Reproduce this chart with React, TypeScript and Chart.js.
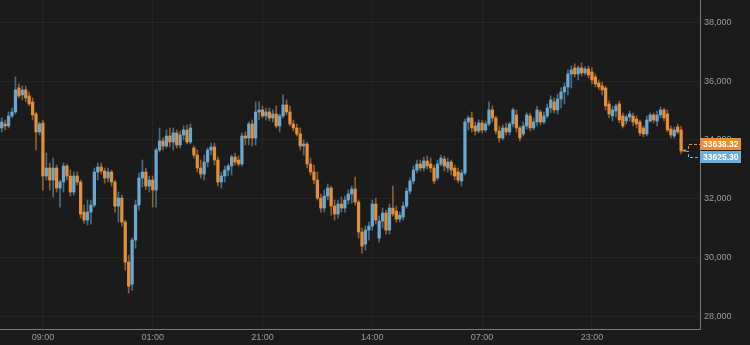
import React, { useEffect, useRef } from 'react';
import { Chart, registerables } from 'chart.js';

Chart.register(...registerables);

// ---- data ----
const categoryCount = 204;
const tickIndices = [12, 44, 76, 108, 140, 172];
const tickLabels = ['09:00', '01:00', '21:00', '14:00', '07:00', '23:00'];
const yTicks = [28000, 30000, 32000, 34000, 36000, 38000];
const yMin = 27580;
const yMax = 38755;
const lastAsk = 33638.32;
const lastBid = 33625.3;

const opens = [
  34408, 34544, 34476, 34816, 34952, 35768, 35530, 35700, 35496, 35292,
  34884, 34272, 34578, 32776, 33048, 32640, 33048, 32368, 32572, 33116,
  32776, 32232, 32776, 32572, 31552, 31280, 31552, 31790, 32912, 33082,
  32946, 32708, 32912, 32572, 31756, 32028, 31212, 29852, 29104, 30600,
  31790, 32708, 32912, 32436, 32640, 32300, 33660, 33966, 33796, 34136,
  33932, 34238, 33830, 34170, 34340, 33932, 33728, 33490, 33048, 32844,
  33252, 33660, 33762, 33320, 32572, 32776, 32980, 33116, 33422, 33320,
  33184, 34136, 34068, 34544, 34068, 34952, 35020, 34816, 34952, 34748,
  34884, 34476, 34816, 35190, 34952, 34544, 34408, 34204, 33796, 33864,
  33184, 32912, 32640, 32028, 31688, 32096, 32368, 31756, 31484, 31824,
  31688, 31960, 32164, 32334, 31892, 30872, 30464, 30940, 31076, 31824,
  30668, 31246, 31518, 30940, 31688, 31586, 31314, 31382, 31756, 32266,
  32606, 32980, 33184, 33048, 33286, 33184, 33048, 32708, 33184, 33354,
  33048, 33252, 33048, 32912, 32606, 32878, 34612, 34748, 34476, 34306,
  34578, 34340, 34544, 35020, 34748, 34306, 34068, 34408, 34272, 34544,
  34850, 34408, 34204, 34476, 34816, 34408, 34612, 34952, 34612, 34816,
  35088, 35292, 35020, 35394, 35632, 35802, 36244, 36448, 36244, 36448,
  36278, 36414, 36312, 36142, 35938, 35836, 35768, 35224, 34816, 34986,
  35224, 34816, 34646, 34782, 34816, 34714, 34612, 34408, 34204, 34646,
  34850, 34646, 34850, 35020, 34884, 34374, 34136, 34442, 34340, 33638.32,
];

const highs = [
  34748, 34680, 34952, 35088, 36142, 35904, 35836, 35836, 35632, 35428,
  34952, 34612, 34680, 33558, 33218, 33388, 33150, 32640, 33218, 33184,
  32980, 32912, 32912, 32640, 31790, 31960, 31960, 33048, 33218, 33218,
  33048, 33048, 32980, 32640, 32232, 32130, 31280, 30090, 30668, 31960,
  32878, 33320, 33048, 32776, 32776, 33728, 34408, 34068, 34340, 34408,
  34408, 34340, 34306, 34476, 34510, 34544, 33796, 33660, 33320, 33490,
  33728, 33898, 33898, 33422, 32912, 33116, 33184, 33490, 33558, 33456,
  34238, 34272, 34612, 34680, 35292, 35292, 35156, 35088, 35088, 35020,
  35156, 34884, 35530, 35360, 35156, 34680, 34544, 34408, 34000, 33932,
  33388, 33150, 32912, 32164, 32300, 32504, 32436, 31960, 31960, 32062,
  32096, 32300, 32436, 32742, 31960, 31008, 31076, 31212, 31960, 32028,
  31416, 31688, 31620, 31824, 32436, 31756, 31552, 31892, 32368, 32708,
  33116, 33320, 33320, 33422, 33456, 33388, 33150, 33320, 33490, 33456,
  33388, 33320, 33150, 33048, 32980, 34714, 34816, 34952, 34612, 34680,
  34680, 34646, 35292, 35156, 34816, 34476, 34510, 34578, 34612, 35088,
  35020, 34476, 34612, 34918, 34918, 34748, 35156, 35020, 34952, 35224,
  35496, 35428, 35564, 35768, 35938, 36380, 36516, 36584, 36516, 36618,
  36482, 36516, 36448, 36244, 36040, 35972, 35836, 35326, 35156, 35224,
  35326, 34918, 34850, 34986, 34918, 34816, 34680, 34476, 34816, 34918,
  34918, 34986, 35122, 35088, 35020, 34476, 34442, 34544, 34476, 33660,
];

const lows = [
  34272, 34340, 34408, 34748, 34884, 35428, 35360, 35292, 35156, 34680,
  33660, 34170, 32300, 32640, 32300, 32062, 32232, 31722, 32232, 32640,
  32096, 32130, 32470, 31348, 31178, 31110, 31144, 31722, 32640, 32844,
  32538, 32572, 32436, 31552, 31212, 31076, 29580, 28798, 28900, 30328,
  31620, 32402, 32300, 32232, 31722, 31722, 33592, 33660, 33728, 33762,
  33660, 33728, 33728, 34000, 33864, 33864, 33388, 32912, 32708, 32640,
  33082, 33490, 33150, 32436, 32368, 32572, 32776, 32810, 33150, 33116,
  33116, 33830, 33830, 33796, 33830, 34680, 34748, 34680, 34646, 34612,
  34408, 34272, 34748, 34850, 34476, 34306, 34136, 33660, 33490, 33048,
  32810, 32504, 31960, 31552, 31552, 31960, 31450, 31280, 31348, 31552,
  31552, 31824, 31858, 31790, 30668, 30158, 30260, 30600, 30940, 31144,
  30532, 31008, 30804, 30804, 31416, 31212, 31212, 31280, 31688, 32164,
  32504, 32878, 32946, 32946, 33014, 32912, 32504, 32640, 33116, 32946,
  32912, 32810, 32640, 32538, 32436, 32810, 34340, 34272, 34170, 34238,
  34238, 34272, 34476, 34612, 34204, 33932, 34000, 34170, 34170, 34442,
  34272, 33966, 34136, 34374, 34306, 34340, 34476, 34510, 34544, 34748,
  34918, 34918, 34884, 35088, 35224, 35530, 35768, 36142, 36040, 36176,
  36210, 36108, 35904, 35802, 35700, 35530, 35020, 34748, 34646, 34782,
  34578, 34408, 34544, 34646, 34476, 34408, 34136, 34102, 34136, 34612,
  34578, 34476, 34748, 34646, 34272, 34068, 34068, 34204, 33524, 33600,
];

const closes = [
  34612, 34476, 34816, 34952, 35700, 35496, 35700, 35428, 35224, 34850,
  34272, 34544, 32776, 33048, 32640, 33048, 32368, 32572, 33116, 32776,
  32232, 32776, 32572, 31484, 31280, 31552, 31790, 32912, 33082, 32946,
  32708, 32912, 32572, 31756, 32028, 31212, 29852, 29036, 30600, 31790,
  32708, 32912, 32436, 32640, 32300, 33660, 33966, 33796, 34136, 33932,
  34238, 33830, 34170, 34340, 33932, 34408, 33490, 33048, 32844, 33252,
  33660, 33762, 33320, 32572, 32776, 32980, 33116, 33422, 33252, 33184,
  34136, 34068, 34544, 34068, 34952, 35020, 34816, 34952, 34748, 34884,
  34476, 34816, 35190, 34952, 34544, 34408, 34204, 33796, 33864, 33184,
  32912, 32640, 32028, 31688, 32096, 32368, 31756, 31484, 31824, 31688,
  31960, 32164, 32334, 31892, 30872, 30396, 30940, 31076, 31824, 31280,
  31246, 31518, 30940, 31688, 31484, 31314, 31450, 31756, 32266, 32606,
  32980, 33184, 33048, 33286, 33116, 33048, 32606, 33184, 33388, 33116,
  33252, 32980, 32776, 32640, 32878, 34612, 34748, 34408, 34306, 34578,
  34340, 34544, 35020, 34748, 34306, 34068, 34408, 34272, 34544, 35020,
  34408, 34068, 34476, 34850, 34408, 34612, 35020, 34612, 34816, 35088,
  35360, 35020, 35394, 35632, 35802, 36244, 36380, 36244, 36448, 36278,
  36414, 36210, 36040, 35904, 35802, 35700, 35156, 34884, 35020, 35156,
  34680, 34476, 34782, 34884, 34612, 34544, 34238, 34204, 34680, 34850,
  34680, 34850, 35020, 34748, 34340, 34170, 34340, 34272, 33626, 33625.3,
];

// ---- styles ----
const BG = '#1b1b1b';
const UP = 'rgba(108,174,216,0.95)';
const DOWN = 'rgba(236,146,58,0.95)';
const UP_WICK = 'rgba(108,174,216,0.55)';
const DOWN_WICK = 'rgba(236,146,58,0.55)';
const GRID = 'rgba(255,255,255,0.045)';
const AXIS = '#7a7a7a';
const TEXT = '#9c9c9c';
const FONT = 'Liberation Sans, Arial, sans-serif';

const labels = Array.from({ length: categoryCount }, (_, i) => {
  const k = tickIndices.indexOf(i);
  return k >= 0 ? tickLabels[k] : '';
});

const isUp = closes.map((c, i) => c >= opens[i]);

const bgPlugin = {
  id: 'bg',
  beforeDraw(chart: any) {
    const { ctx, width, height } = chart;
    ctx.save();
    ctx.fillStyle = BG;
    ctx.fillRect(0, 0, width, height);
    ctx.restore();
  },
};

const priceTagPlugin = {
  id: 'priceTags',
  afterDraw(chart: any) {
    const { ctx, chartArea } = chart;
    const xs = chart.scales.x;
    const ys = chart.scales.y;
    const last = closes.length - 1;
    const xLast = xs.getPixelForValue(last) + 1.5;
    const yMid = ys.getPixelForValue((lastAsk + lastBid) / 2);
    const xBend = chartArea.right - 12;
    const tags = [
      { value: lastAsk, color: '#e98d3a', y: yMid - 6.5 },
      { value: lastBid, color: '#6cafd8', y: yMid + 6 },
    ];
    ctx.save();
    ctx.lineWidth = 1;
    ctx.setLineDash([3, 2]);
    tags.forEach((t) => {
      ctx.strokeStyle = t.color;
      ctx.beginPath();
      ctx.moveTo(xLast, Math.round(yMid) + 0.5);
      ctx.lineTo(xBend + 0.5, Math.round(yMid) + 0.5);
      ctx.lineTo(xBend + 0.5, Math.round(t.y) + 0.5);
      ctx.lineTo(chartArea.right, Math.round(t.y) + 0.5);
      ctx.stroke();
    });
    ctx.setLineDash([]);
    tags.forEach((t) => {
      ctx.fillStyle = t.color;
      ctx.fillRect(chartArea.right, Math.round(t.y) - 6, 41, 12);
      ctx.fillStyle = '#ffffff';
      ctx.font = `bold 8.5px ${FONT}`;
      ctx.textBaseline = 'middle';
      ctx.textAlign = 'left';
      ctx.fillText(t.value.toFixed(2), chartArea.right + 3, Math.round(t.y) + 0.5);
    });
    ctx.restore();
  },
};

export default function App() {
  const ref = useRef<HTMLCanvasElement>(null);

  useEffect(() => {
    const canvas = ref.current;
    if (!canvas) return;
    const chart = new Chart(canvas, {
      type: 'bar',
      data: {
        labels,
        datasets: [
          {
            label: 'body',
            data: opens.map((o, i) => [o, closes[i]]) as any,
            backgroundColor: isUp.map((u) => (u ? UP : DOWN)),
            barThickness: 2.6,
            minBarLength: 1,
            grouped: false,
            borderWidth: 0,
          } as any,
          {
            label: 'wick',
            data: lows.map((l, i) => [l, highs[i]]) as any,
            backgroundColor: isUp.map((u) => (u ? UP_WICK : DOWN_WICK)),
            barThickness: 1,
            grouped: false,
            borderWidth: 0,
          } as any,
        ],
      },
      options: {
        responsive: false,
        devicePixelRatio: 1,
        animation: false,
        layout: { padding: 0 },
        plugins: {
          legend: { display: false },
          tooltip: { enabled: false },
        },
        scales: {
          x: {
            type: 'category',
            offset: true,
            grid: {
              offset: false,
              drawTicks: false,
              color: (c: any) => (c.tick && c.tick.label ? GRID : 'rgba(0,0,0,0)'),
            },
            border: { display: true, color: AXIS, width: 1 },
            ticks: {
              autoSkip: false,
              maxRotation: 0,
              minRotation: 0,
              padding: 3,
              color: TEXT,
              font: { size: 9, family: FONT },
            },
            afterFit: (s: any) => {
              s.height = 16;
              s.paddingLeft = 0;
              s.paddingRight = 0;
            },
          } as any,
          y: {
            position: 'right',
            min: yMin,
            max: yMax,
            afterBuildTicks: (s: any) => {
              s.ticks = yTicks.map((v) => ({ value: v }));
            },
            grid: { drawTicks: false, color: GRID },
            border: { display: true, color: AXIS, width: 1 },
            ticks: {
              padding: 4,
              color: TEXT,
              font: { size: 9, family: FONT },
              callback: (v: any) => Number(v).toLocaleString('en-US'),
            },
            afterFit: (s: any) => {
              s.width = 50;
              s.paddingTop = 0;
              s.paddingBottom = 0;
            },
          } as any,
        },
      },
      plugins: [bgPlugin, priceTagPlugin],
    });
    return () => chart.destroy();
  }, []);

  return (
    <div style={{ position: 'fixed', left: 0, top: 0, width: 750, height: 345, background: BG }}>
      <canvas ref={ref} width={750} height={345} style={{ display: 'block', width: 750, height: 345 }} />
    </div>
  );
}
